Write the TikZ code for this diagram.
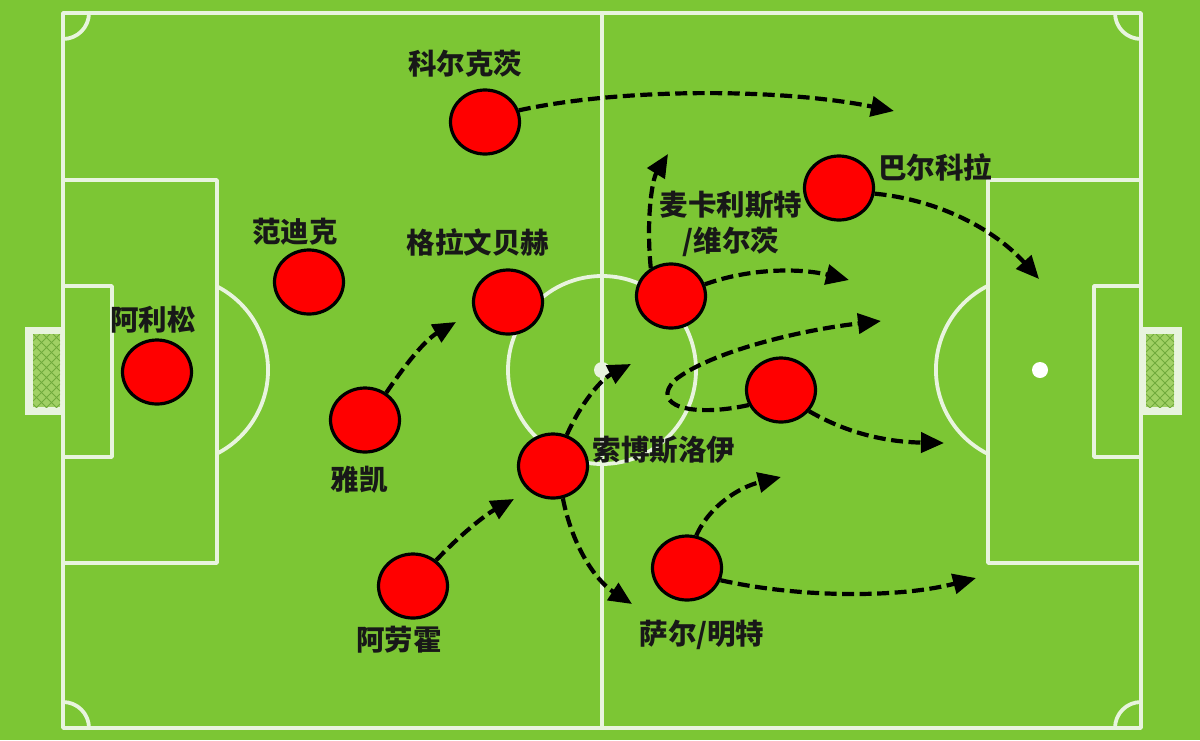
\documentclass[tikz,border=0pt]{standalone}
\usepackage{fontspec}
\newfontfamily\cjk{Noto Sans CJK SC}
\usetikzlibrary{arrows.meta,shapes.geometric}
\definecolor{pitchgreen}{RGB}{124,198,52}
\definecolor{linewhite}{RGB}{232,244,222}
\definecolor{netgreen}{RGB}{160,208,100}
\definecolor{netline}{RGB}{112,170,60}
\definecolor{inkblack}{RGB}{24,24,24}

\begin{document}
\begin{tikzpicture}[line cap=round,line join=round,>={Triangle[length=23pt,width=20pt]},x=1pt,y=-1pt,
		pline/.style={draw=linewhite,line width=3.8pt},
		player/.style={ellipse,draw=black,line width=3.2pt,fill=red,minimum width=69pt,minimum height=64pt,inner sep=0pt},
		lbl/.style={text=inkblack,font=\cjk\bfseries\fontsize{28.5}{36}\selectfont,inner sep=0pt,align=center},
		run/.style={->,line width=4.2pt,dash pattern=on 12pt off 5.5pt,line cap=butt}]
		\useasboundingbox (0,0) rectangle (1200,740);
		\fill [pitchgreen] (0,0) rectangle (1200,740);
		% pitch lines
		\draw [pline] (63,13) rectangle (1141,728);
		\draw [pline] (602,13)-- (602,728);
		\draw [pline] (602,370) circle (94);
		\fill [linewhite] (602,370) circle (8);
		\draw [pline] (63,180) rectangle (217,563);
		\draw [pline] (63,286) rectangle (112,457);
		\draw [pline] (217,286.4) arc [start angle=-62.8,end angle=62.8,radius=94];
		\draw [pline] (988,180) rectangle (1141,563);
		\draw [pline] (1094,286) rectangle (1141,457);
		\draw [pline] (988,454) arc [start angle=116.5,end angle=243.5,radius=94];
		\fill [white] (1040,370) circle (8);
		\draw [pline] (89,13) arc [start angle=0,end angle=90,radius=26];
		\draw [pline] (1115,13) arc [start angle=180,end angle=90,radius=26];
		\draw [pline] (89,728) arc [start angle=0,end angle=-90,radius=26];
		\draw [pline] (1115,728) arc [start angle=180,end angle=270,radius=26];
		% goals
		\fill [linewhite] (25,327) rectangle (63,415);
		\fill [linewhite] (1141,327) rectangle (1182,415);
		\fill [netgreen] (33,334) rectangle (60,407);
		\fill [netgreen] (1146,334) rectangle (1174,407);
		\begin{scope}
			\clip (33,334) rectangle (60,407);
			\foreach \k in {-40,-30,...,80}
				\draw [netline,line width=0.8pt] (33,334+\k)-- (60,361+\k) (33,361+\k)-- (60,334+\k);
		\end{scope}
		\begin{scope}
			\clip (1146,334) rectangle (1174,407);
			\foreach \k in {-40,-30,...,80}
				\draw [netline,line width=0.8pt] (1146,334+\k)-- (1174,362+\k) (1146,362+\k)-- (1174,334+\k);
		\end{scope}
		% players
		\node [player] (alisson) at (157,372) {};
		\node [player] (vandijk) at (309,282) {};
		\node [player] (kerkez) at (485,122) {};
		\node [player] (gravenberch) at (508,302) {};
		\node [player] (yakai) at (365,420) {};
		\node [player] (araujo) at (413,586) {};
		\node [player] (szobo) at (553,466) {};
		\node [player] (macal) at (671,296) {};
		\node [player] (barcola) at (839,188) {};
		\node [player] (winger) at (781,390) {};
		\node [player] (saar) at (687,568) {};
		% names
		\node [lbl] (alissonname) at (153,320) {阿利松};
		\node [lbl] (vandijkname) at (295,232) {范迪克};
		\node [lbl] (kerkezname) at (465,64) {科尔克茨};
		\node [lbl] (gravenberchname) at (478,242) {格拉文贝赫};
		\node [lbl] (yakainame) at (359,480) {雅凯};
		\node [lbl] (araujoname) at (399,640) {阿劳霍};
		\node [lbl] (szoboname) at (664,450) {索博斯洛伊};
		\node [lbl] (macalname) at (731,224) {麦卡利斯特\\/维尔茨};
		\node [lbl] (barcolaname) at (935,167) {巴尔科拉};
		\node [lbl] (saarname) at (702,635) {萨尔/明特};
		% runs
		\coordinate (kerkezend) at (894,111);
		\coordinate (macalup) at (668,154);
		\coordinate (macalend) at (849,280);
		\coordinate (barcolaend) at (1039,279);
		\coordinate (wingerloop) at (881,321);
		\coordinate (wingerend) at (944,443);
		\coordinate (szoboup) at (631,364);
		\coordinate (szobodown) at (632,604);
		\coordinate (saarup) at (781,477);
		\coordinate (saarend) at (976,578);
		\coordinate (araujoend) at (514,499);
		\coordinate (yakaiend) at (456,322);
		\draw [run] (kerkez.19) .. controls (620,88) and (780,88) .. (kerkezend);
		\draw [run] (macal.126) .. controls (646,220) and (652,180) .. (macalup);
		\draw [run] (macal.19) .. controls (750,268) and (800,268) .. (macalend);
		\draw [run] (barcola.-9) .. controls (940,200) and (995,230) .. (barcolaend);
		\draw [run] (winger.205) .. controls (690,418) and (650,405) .. (675,380) .. controls (710,352) and (800,330) .. (wingerloop);
		\draw [run] (winger.-37) .. controls (850,435) and (890,442) .. (wingerend);
		\draw [run] (szobo.66) .. controls (580,405) and (600,380) .. (szoboup);
		\draw [run] (szobo.-73) .. controls (572,545) and (595,580) .. (szobodown);
		\draw [run] (saar.74) .. controls (710,505) and (740,487) .. (saarup);
		\draw [run] (saar.-20) .. controls (800,598) and (900,598) .. (saarend);
		\draw [run] (araujo.48) .. controls (460,535) and (485,515) .. (araujoend);
		\draw [run] (yakai.52) .. controls (405,365) and (425,340) .. (yakaiend);
	\end{tikzpicture}
\end{document}
